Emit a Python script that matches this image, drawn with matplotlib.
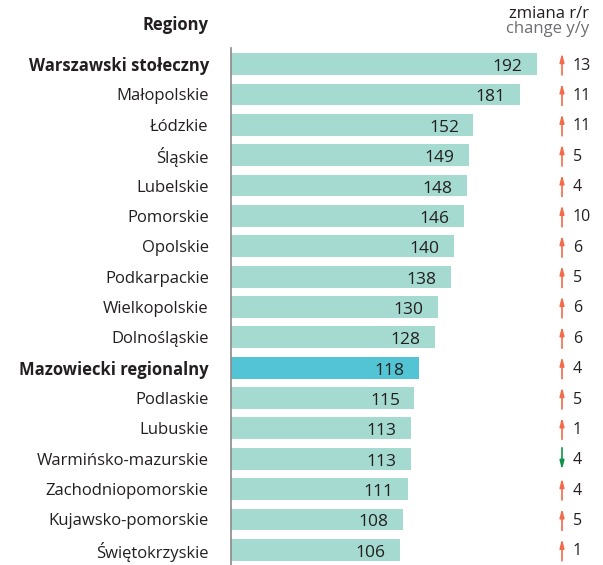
import matplotlib.pyplot as plt

regiony = ["Warszawski stołeczny", "Małopolskie", "Łódzkie", "Śląskie", "Lubelskie",
           "Pomorskie", "Opolskie", "Podkarpackie", "Wielkopolskie", "Dolnośląskie",
           "Mazowiecki regionalny", "Podlaskie", "Lubuskie", "Warmińsko-mazurskie",
           "Zachodniopomorskie", "Kujawsko-pomorskie", "Świętokrzyskie"]
wartosci = [192, 181, 152, 149, 148, 146, 140, 138, 130, 128, 118, 115, 113, 113, 111, 108, 106]
zmiana = [13, 11, 11, 5, 4, 10, 6, 5, 6, 6, 4, 5, 1, -4, 4, 5, 1]
pogrubione = ["Warszawski stołeczny", "Mazowiecki regionalny"]

plt.rcParams['font.family'] = ['Open Sans', 'DejaVu Sans']

W, H = 603, 565
fig = plt.figure(figsize=(W / 100, H / 100), dpi=100)
# os od linii pionowej (x=231 px) do prawej krawędzi
ax = fig.add_axes([231 / W, 0, (W - 231) / W, (565 - 48) / H])

skala = 1.594  # px na jednostkę
ax.set_xlim(0, (W - 231) / skala)
ax.set_ylim(16.5, -0.53)

kolory = ['#52c4d3' if r == "Mazowiecki regionalny" else '#a4dad0' for r in regiony]
pozycje = list(range(len(regiony)))
ax.barh(pozycje, wartosci, height=0.72, color=kolory)

for y, v in zip(pozycje, wartosci):
    ax.text(v - 9, y + 0.1, str(v), ha='right', va='center', fontsize=12.5, color='#231f20')

# strzałki zmiany r/r
x_strz = (562 - 231) / skala
x_liczba = (573 - 231) / skala
for y, z in zip(pozycje, zmiana):
    if z >= 0:
        kolor = '#f26b4a'
        poczatek, koniec = y + 0.36, y - 0.36
    else:
        kolor = '#0e9447'
        poczatek, koniec = y - 0.36, y + 0.36
    ax.annotate('', xy=(x_strz, koniec), xytext=(x_strz, poczatek),
                arrowprops=dict(arrowstyle='-|>,head_width=0.13,head_length=0.5',
                                color=kolor, lw=1.2, shrinkA=0, shrinkB=0))
    ax.text(x_liczba, y + 0.05, str(abs(z)), ha='left', va='center', fontsize=11.5, color='#231f20')

ax.set_yticks(pozycje)
ax.set_yticklabels(regiony, fontsize=12, color='#231f20')
for lab in ax.get_yticklabels():
    if lab.get_text() in pogrubione:
        lab.set_fontweight('bold')
ax.tick_params(axis='y', length=0, pad=16)
ax.set_xticks([])

for s in ['top', 'right', 'bottom']:
    ax.spines[s].set_visible(False)
ax.spines['left'].set_color('#8a8a8a')
ax.spines['left'].set_linewidth(1.2)

fig.text(175 / W, 1 - 25 / H, "Regiony", ha='center', va='center', fontsize=12,
         fontweight='bold', color='#231f20')
fig.text(589 / W, 1 - 14 / H, "zmiana r/r", ha='right', va='center', fontsize=12, color='#231f20')
fig.text(589 / W, 1 - 29 / H, "change y/y", ha='right', va='center', fontsize=12, color='#6d6e71')

fig.savefig("out.png", dpi=100)
